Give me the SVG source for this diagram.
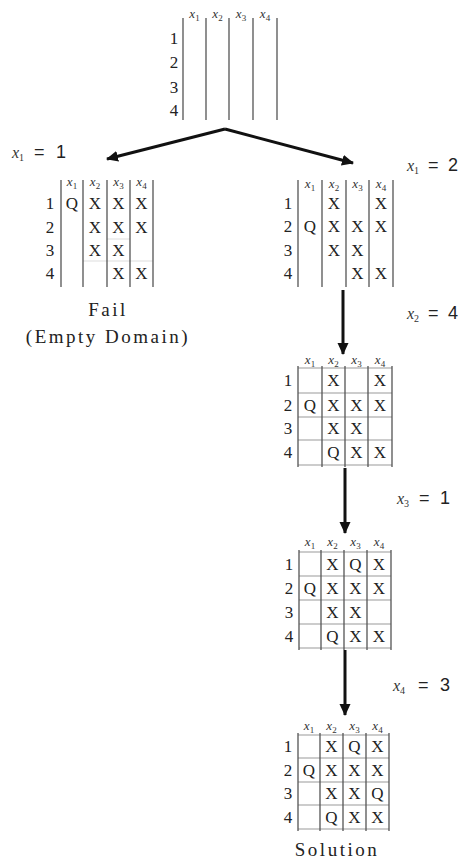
<svg xmlns="http://www.w3.org/2000/svg" width="460" height="864" viewBox="0 0 460 864">
<defs>
<marker id="ah" markerUnits="userSpaceOnUse" markerWidth="12" markerHeight="12" viewBox="0 0 12 12" refX="11" refY="6" orient="auto">
<path d="M0,0.5 L12,6 L0,11.5 Z" fill="#111"/>
</marker>
</defs>
<style>
.vl{stroke:#555;stroke-width:1.3;fill:none}
.hl{stroke:#999;stroke-width:1;fill:none}
.fh{stroke:#ddd;stroke-width:1;fill:none}
.c{font-family:"Liberation Serif",serif;font-size:17px;fill:#222;text-anchor:middle}
.h{font-family:"Liberation Serif",serif;font-size:13px;font-style:italic;fill:#333;text-anchor:middle}
.s{font-size:9px;font-style:normal}
.cap{font-family:"Liberation Serif",serif;font-size:19px;letter-spacing:2.5px;fill:#222;text-anchor:middle}
.lx{font-family:"Liberation Serif",serif;font-size:16px;font-style:italic;fill:#333}
.ls{font-family:"Liberation Sans",sans-serif;font-size:18px;font-style:normal;fill:#222}
.sb{font-family:"Liberation Serif",serif;font-size:10px;font-style:normal}
.ar{stroke:#111;stroke-width:3;fill:none}
</style>

<g id="connectors">
<path class="ar" d="M225,129 L107,159" marker-end="url(#ah)"/>
<path class="ar" d="M225,129 L353,163" marker-end="url(#ah)"/>
<path class="ar" d="M343,290 L343,354" marker-end="url(#ah)"/>
<path class="ar" d="M345,468 L345,533" marker-end="url(#ah)"/>
<path class="ar" d="M345,650 L345,715" marker-end="url(#ah)"/>
<text class="lx" x="12" y="158">x<tspan class="sb" dy="3">1</tspan><tspan class="ls" x="34" dy="-3">=</tspan><tspan class="ls" x="56">1</tspan></text>
<text class="lx" x="407" y="171">x<tspan class="sb" dy="3">1</tspan><tspan class="ls" x="428" dy="-3">=</tspan><tspan class="ls" x="448">2</tspan></text>
<text class="lx" x="407" y="319">x<tspan class="sb" dy="3">2</tspan><tspan class="ls" x="428" dy="-3">=</tspan><tspan class="ls" x="448">4</tspan></text>
<text class="lx" x="397" y="504">x<tspan class="sb" dy="3">3</tspan><tspan class="ls" x="419" dy="-3">=</tspan><tspan class="ls" x="440">1</tspan></text>
<text class="lx" x="393" y="691">x<tspan class="sb" dy="3">4</tspan><tspan class="ls" x="418" dy="-3">=</tspan><tspan class="ls" x="440">3</tspan></text>
</g>

<g id="board-root">
<path class="vl" d="M183,18V120M206,18V120M229,18V120M253,18V120M277,18V120"/>
<text class="h" x="194.5" y="18">x<tspan class="s" dy="3">1</tspan></text>
<text class="h" x="217.5" y="18">x<tspan class="s" dy="3">2</tspan></text>
<text class="h" x="241" y="18">x<tspan class="s" dy="3">3</tspan></text>
<text class="h" x="265" y="18">x<tspan class="s" dy="3">4</tspan></text>
<text class="c" x="174" y="44">1</text>
<text class="c" x="174" y="68">2</text>
<text class="c" x="174" y="93">3</text>
<text class="c" x="174" y="116">4</text>
</g>

<g id="board-x1-1">
<path class="fh" d="M107,239H130M83,261H153"/>
<path class="vl" d="M61,180V287M83,180V287M107,180V287M130,180V287M153,180V287"/>
<text class="h" x="72" y="186">x<tspan class="s" dy="3">1</tspan></text>
<text class="h" x="95" y="186">x<tspan class="s" dy="3">2</tspan></text>
<text class="h" x="118.5" y="186">x<tspan class="s" dy="3">3</tspan></text>
<text class="h" x="141.5" y="186">x<tspan class="s" dy="3">4</tspan></text>
<text class="c" x="50" y="209">1</text>
<text class="c" x="50" y="233">2</text>
<text class="c" x="50" y="256">3</text>
<text class="c" x="50" y="279">4</text>
<text class="c" x="72" y="209">Q</text><text class="c" x="95" y="209">X</text><text class="c" x="118.5" y="209">X</text><text class="c" x="141.5" y="209">X</text>
<text class="c" x="95" y="233">X</text><text class="c" x="118.5" y="233">X</text><text class="c" x="141.5" y="233">X</text>
<text class="c" x="95" y="256">X</text><text class="c" x="118.5" y="256">X</text>
<text class="c" x="118.5" y="279">X</text><text class="c" x="141.5" y="279">X</text>
<text class="cap" x="108" y="316">Fail</text>
<text class="cap" x="108" y="343">(Empty Domain)</text>
</g>

<g id="board-x1-2">
<path class="vl" d="M298,180V287M322,180V287M346,180V287M369,180V287M393,180V287"/>
<text class="h" x="310" y="188">x<tspan class="s" dy="3">1</tspan></text>
<text class="h" x="334" y="188">x<tspan class="s" dy="3">2</tspan></text>
<text class="h" x="357.5" y="188">x<tspan class="s" dy="3">3</tspan></text>
<text class="h" x="381" y="188">x<tspan class="s" dy="3">4</tspan></text>
<text class="c" x="288" y="209">1</text>
<text class="c" x="288" y="232">2</text>
<text class="c" x="288" y="256">3</text>
<text class="c" x="288" y="279">4</text>
<text class="c" x="334" y="209">X</text><text class="c" x="381" y="209">X</text>
<text class="c" x="310" y="232">Q</text><text class="c" x="334" y="232">X</text><text class="c" x="357.5" y="232">X</text><text class="c" x="381" y="232">X</text>
<text class="c" x="334" y="256">X</text><text class="c" x="357.5" y="256">X</text>
<text class="c" x="357.5" y="279">X</text><text class="c" x="381" y="279">X</text>
</g>

<g id="board-x2-4">
<path class="hl" d="M298,368H392M298,393H392M298,417H392M298,440H392M298,465H392"/>
<path class="vl" d="M298,366V467M322,366V467M345,366V467M368,366V467M392,366V467"/>
<text class="h" x="310" y="364">x<tspan class="s" dy="3">1</tspan></text>
<text class="h" x="333.5" y="364">x<tspan class="s" dy="3">2</tspan></text>
<text class="h" x="356.5" y="364">x<tspan class="s" dy="3">3</tspan></text>
<text class="h" x="380" y="364">x<tspan class="s" dy="3">4</tspan></text>
<text class="c" x="288" y="386">1</text>
<text class="c" x="288" y="411">2</text>
<text class="c" x="288" y="434">3</text>
<text class="c" x="288" y="458">4</text>
<text class="c" x="333.5" y="386">X</text><text class="c" x="380" y="386">X</text>
<text class="c" x="310" y="411">Q</text><text class="c" x="333.5" y="411">X</text><text class="c" x="356.5" y="411">X</text><text class="c" x="380" y="411">X</text>
<text class="c" x="333.5" y="434">X</text><text class="c" x="356.5" y="434">X</text>
<text class="c" x="333.5" y="458">Q</text><text class="c" x="356.5" y="458">X</text><text class="c" x="380" y="458">X</text>
</g>

<g id="board-x3-1">
<path class="hl" d="M299,552H391M299,576H391M299,600H391M299,624H391M299,648H391"/>
<path class="vl" d="M299,550V650M321,550V650M344,550V650M367,550V650M391,550V650"/>
<text class="h" x="310" y="546">x<tspan class="s" dy="3">1</tspan></text>
<text class="h" x="332.5" y="546">x<tspan class="s" dy="3">2</tspan></text>
<text class="h" x="355.5" y="546">x<tspan class="s" dy="3">3</tspan></text>
<text class="h" x="379" y="546">x<tspan class="s" dy="3">4</tspan></text>
<text class="c" x="289" y="570">1</text>
<text class="c" x="289" y="594">2</text>
<text class="c" x="289" y="618">3</text>
<text class="c" x="289" y="642">4</text>
<text class="c" x="332.5" y="570">X</text><text class="c" x="355.5" y="570">Q</text><text class="c" x="379" y="570">X</text>
<text class="c" x="310" y="594">Q</text><text class="c" x="332.5" y="594">X</text><text class="c" x="355.5" y="594">X</text><text class="c" x="379" y="594">X</text>
<text class="c" x="332.5" y="618">X</text><text class="c" x="355.5" y="618">X</text>
<text class="c" x="332.5" y="642">Q</text><text class="c" x="355.5" y="642">X</text><text class="c" x="379" y="642">X</text>
</g>

<g id="board-x4-3">
<path class="hl" d="M298,735H389M298,758H389M298,782H389M298,805H389M298,829H389"/>
<path class="vl" d="M298,733V831M320,733V831M343,733V831M366,733V831M389,733V831"/>
<text class="h" x="309" y="730">x<tspan class="s" dy="3">1</tspan></text>
<text class="h" x="331.5" y="730">x<tspan class="s" dy="3">2</tspan></text>
<text class="h" x="354.5" y="730">x<tspan class="s" dy="3">3</tspan></text>
<text class="h" x="377.5" y="730">x<tspan class="s" dy="3">4</tspan></text>
<text class="c" x="288" y="752">1</text>
<text class="c" x="288" y="776">2</text>
<text class="c" x="288" y="799">3</text>
<text class="c" x="288" y="823">4</text>
<text class="c" x="331.5" y="752">X</text><text class="c" x="354.5" y="752">Q</text><text class="c" x="377.5" y="752">X</text>
<text class="c" x="309" y="776">Q</text><text class="c" x="331.5" y="776">X</text><text class="c" x="354.5" y="776">X</text><text class="c" x="377.5" y="776">X</text>
<text class="c" x="331.5" y="799">X</text><text class="c" x="354.5" y="799">X</text><text class="c" x="377.5" y="799">Q</text>
<text class="c" x="331.5" y="823">Q</text><text class="c" x="354.5" y="823">X</text><text class="c" x="377.5" y="823">X</text>
<text class="cap" x="337" y="856">Solution</text>
</g>
</svg>
